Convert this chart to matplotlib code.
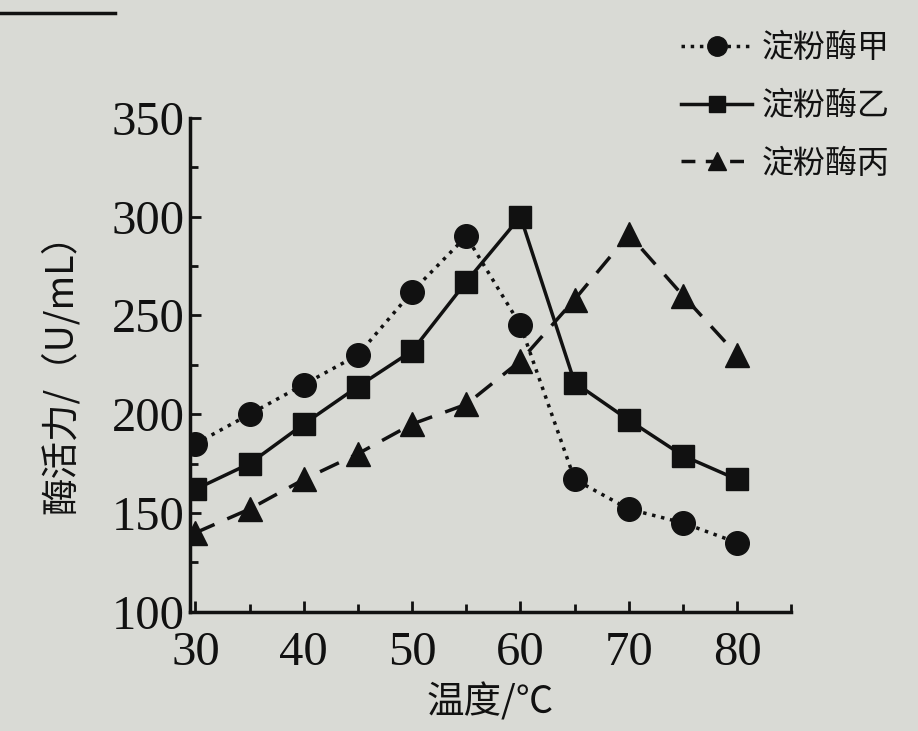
import matplotlib
matplotlib.use("Agg")
import matplotlib.pyplot as plt
from matplotlib.lines import Line2D
from matplotlib.ticker import MultipleLocator

# 数据
temps = [30, 35, 40, 45, 50, 55, 60, 65, 70, 75, 80]
enzyme_a = [185, 200, 215, 230, 262, 290, 245, 167, 152, 145, 135]
enzyme_b = [162, 175, 195, 214, 232, 267, 300, 216, 197, 179, 167]
enzyme_c = [140, 152, 167, 180, 195, 205, 227, 258, 291, 260, 230]
series_names = ["淀粉酶甲", "淀粉酶乙", "淀粉酶丙"]

bg = "#d9dad5"
cjk = ["Noto Sans CJK SC", "DejaVu Sans"]
serif = "Liberation Serif"

fig = plt.figure(figsize=(9.18, 7.31), dpi=100, facecolor=bg)
ax = fig.add_axes([0.207, 0.163, 0.655, 0.676], facecolor=bg)

ax.plot(temps, enzyme_a, color="#111111", linestyle=":", linewidth=2.5,
        marker="o", markersize=17, label=series_names[0])
ax.plot(temps, enzyme_b, color="#111111", linestyle="-", linewidth=2.5,
        marker="s", markersize=16, label=series_names[1])
ax.plot(temps, enzyme_c, color="#111111", linestyle=(0, (6, 4)), linewidth=2.5,
        marker="^", markersize=17, label=series_names[2])

ax.set_xlim(29.5, 85)
ax.set_ylim(100, 350)
ax.set_xticks([30, 40, 50, 60, 70, 80])
ax.xaxis.set_minor_locator(MultipleLocator(5))
ax.set_yticks([100, 150, 200, 250, 300, 350])
ax.yaxis.set_minor_locator(MultipleLocator(25))

for s in ["top", "right"]:
    ax.spines[s].set_visible(False)
for s in ["left", "bottom"]:
    ax.spines[s].set_linewidth(2.5)
    ax.spines[s].set_color("#111111")

ax.tick_params(axis="both", which="both", direction="in", width=2, color="#111111")
ax.tick_params(axis="both", which="major", length=8, labelsize=35)
ax.tick_params(axis="x", which="major", pad=14)
ax.tick_params(axis="y", which="major", pad=4)
ax.tick_params(axis="both", which="minor", length=6)
for lab in ax.get_xticklabels() + ax.get_yticklabels():
    lab.set_fontfamily(serif)
    lab.set_color("#111111")

ax.set_xlabel("温度/℃", family=cjk, fontsize=27, color="#111111", labelpad=6)
ax.set_ylabel("酶活力/（U/mL）", family=cjk, fontsize=27, color="#111111", labelpad=22)

# 图例（右上角）
handles = [
    Line2D([], [], color="#111111", linestyle=":", linewidth=2.5, marker="o", markersize=14),
    Line2D([], [], color="#111111", linestyle="-", linewidth=2.5, marker="s", markersize=12),
    Line2D([], [], color="#111111", linestyle=(0, (4, 3)), linewidth=2.5, marker="^", markersize=13),
]
fig.legend(handles, series_names, loc="upper right", bbox_to_anchor=(1.0, 0.995),
           frameon=False, prop={"family": cjk, "size": 23}, handlelength=2.2,
           handletextpad=0.3, labelspacing=0.8, labelcolor="#111111")

# 左上角书页上的横线
fig.add_artist(Line2D([0.0, 0.125], [0.982, 0.982], color="#111111", linewidth=2.5,
                      transform=fig.transFigure))

fig.savefig("out.png", dpi=100, facecolor=bg)
